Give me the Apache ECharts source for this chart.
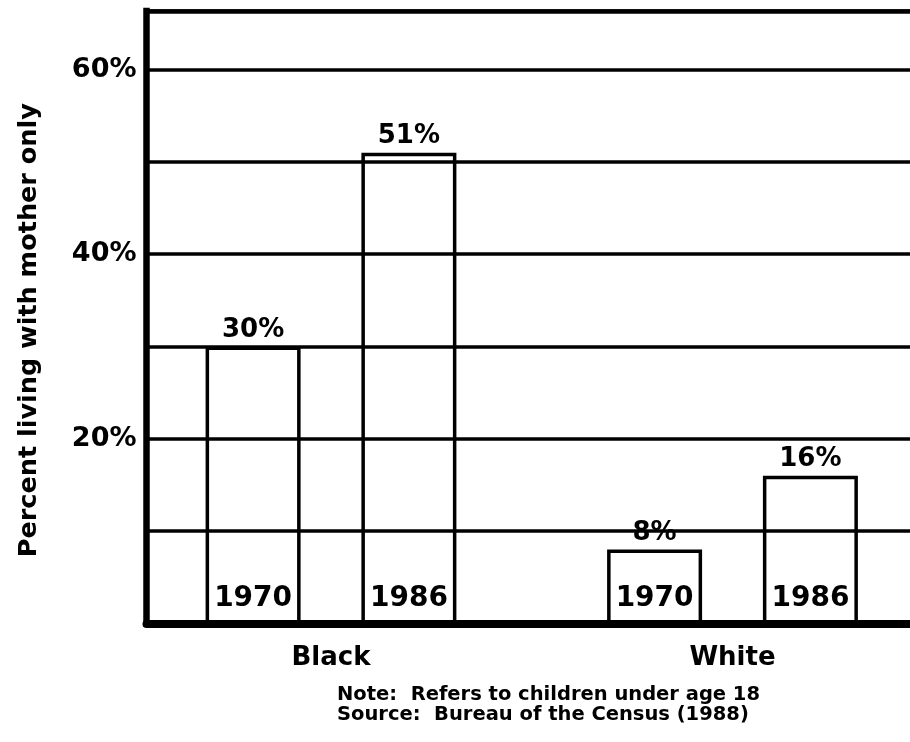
<!DOCTYPE html>
<html><head><meta charset="utf-8">
<script src="https://cdn.jsdelivr.net/npm/echarts@6/dist/echarts.min.js"></script>
<style>html,body{margin:0;padding:0;background:#fff}#chart{width:910px;height:742px}</style>
</head><body><div id="chart"></div>
<script>
// ---- data ----
const categories = ['Black', 'White'];
const years = ['1970', '1986'];
const values1970 = [30, 8];
const values1986 = [51, 16];
const yTickValues = [20, 40, 60];
const yTickLabels = ['20%', '40%', '60%'];
const yAxisTitle = 'Percent living with mother only';
const noteLines = ['Note:  Refers to children under age 18', 'Source:  Bureau of the Census (1988)'];

// ---- style ----
const FONT = 'DejaVu Sans';
const INK = '#000';
const Y_MAX = 66.35;
const seriesValues = [values1970, values1986];

function makeSeries(yi) {
  return {
    type: 'bar', name: years[yi], xAxisIndex: 1, yAxisIndex: 1,
    data: seriesValues[yi], barWidth: 95, barGap: '64%',
    itemStyle: { color: '#fff', borderColor: INK, borderWidth: 3.5 },
    label: {
      show: true, position: 'top', distance: 3,
      formatter: p => p.value + '%',
      fontFamily: FONT, fontWeight: 'bold', fontSize: 26, color: INK,
      backgroundColor: '#fff', padding: [0, 12]
    },
    markPoint: {
      symbol: 'rect', symbolSize: 1, silent: true,
      itemStyle: { color: 'rgba(0,0,0,0)' },
      label: {
        show: true, position: 'top', distance: 10, formatter: years[yi],
        fontFamily: FONT, fontWeight: 'bold', fontSize: 28, color: INK
      },
      data: categories.map((c, i) => ({ coord: [i, 0] }))
    },
    z: 3
  };
}

const chart = echarts.init(document.getElementById('chart'), null, { renderer: 'canvas' });
chart.setOption({
  animation: false,
  backgroundColor: '#fff',
  title: {
    text: noteLines.join('\n'), left: 332, top: 680,
    textStyle: { fontFamily: FONT, fontWeight: 'bold', fontSize: 19.5, lineHeight: 20, color: INK }
  },
  grid: [
    { left: 146.5, right: 0, top: 11, bottom: 118.6, outerBoundsMode: 'none', containLabel: false },
    { left: 130.25, width: 803, top: 11, bottom: 118.6, outerBoundsMode: 'none', containLabel: false }
  ],
  xAxis: [
    { gridIndex: 0, type: 'value', min: 0, max: 1, position: 'bottom', offset: 3, z: 5,
      axisLine: { show: true, lineStyle: { color: INK, width: 8 } },
      axisTick: { show: false }, axisLabel: { show: false }, splitLine: { show: false } },
    { gridIndex: 1, type: 'category', data: categories,
      axisLine: { show: false }, axisTick: { show: false }, splitLine: { show: false },
      axisLabel: { margin: 22, fontFamily: FONT, fontWeight: 'bold', fontSize: 26, color: INK } },
    { gridIndex: 0, type: 'value', min: 0, max: 1, position: 'top', z: 5,
      axisLine: { show: true, lineStyle: { color: INK, width: 4.5, cap: 'square' } },
      axisTick: { show: false }, axisLabel: { show: false }, splitLine: { show: false } }
  ],
  yAxis: [
    { gridIndex: 0, type: 'value', min: 0, max: Y_MAX, interval: 10, z: 4,
      name: yAxisTitle, nameLocation: 'middle', nameGap: 104, nameRotate: 90,
      nameTextStyle: { fontFamily: FONT, fontWeight: 'bold', fontSize: 25.5, color: INK, padding: [0, 26, 0, 0] },
      axisLine: { show: true, lineStyle: { color: INK, width: 6.5, cap: 'square' } },
      axisTick: { show: false },
      splitLine: { show: true, lineStyle: { color: INK, width: 3.5 } },
      axisLabel: {
        margin: 10, fontFamily: FONT, fontWeight: 'bold', fontSize: 27, color: INK, padding: [8, 0, 0, 0],
        formatter: v => { const k = yTickValues.indexOf(v); return k >= 0 ? yTickLabels[k] : ''; }
      } },
    { gridIndex: 1, type: 'value', min: 0, max: Y_MAX, show: false, splitLine: { show: false } }
  ],
  series: [makeSeries(0), makeSeries(1)]
});
</script></body></html>
